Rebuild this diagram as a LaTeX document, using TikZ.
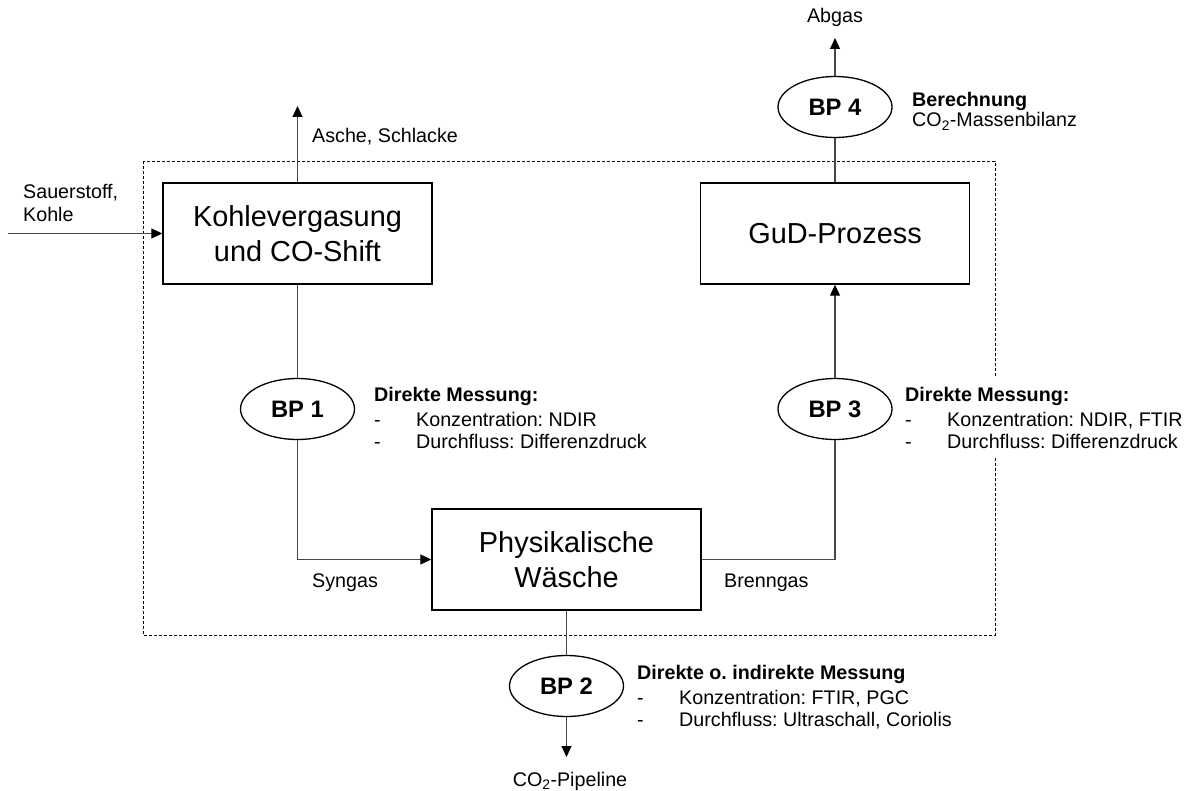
\documentclass[tikz,border=0pt]{standalone}
\usepackage{fontspec}
\setmainfont{Liberation Sans}
\frenchspacing
\usetikzlibrary{arrows.meta,shapes.geometric}
\begin{document}
\begin{tikzpicture}[x=1pt,y=-1pt,
  procbox/.style={draw,line width=1.4pt,minimum width=269pt,minimum height=101pt,align=center,inner sep=0pt,font=\fontsize{28.9}{35}\selectfont},
  bpell/.style={draw,ellipse,line width=1.3pt,minimum width=114pt,minimum height=61pt,inner sep=0pt,font=\fontsize{23.8}{28}\selectfont\bfseries},
  conn/.style={line width=1.1pt,draw=black!72},
  flow/.style={conn,-{Triangle[length=11pt,width=10pt,black]}},
  lbl/.style={inner sep=0pt,font=\fontsize{19.7}{23}\selectfont},
  hdr/.style={lbl,font=\fontsize{19.7}{23}\selectfont\bfseries},
  sysbox/.style={line width=0.8pt,dash pattern=on 3pt off 2pt}]
\useasboundingbox (0,0) rectangle (1196,791);
% system boundary
\draw[sysbox] (143,161) rectangle (995,635);
% white backing of the BP3 text (covers the boundary line)
\fill[white] (900,378) rectangle (1196,456);
% process boxes
\node[procbox] (K) at (297.5,233.5) {Kohlevergasung\\und CO-Shift};
\node[procbox] (G) at (835,233.5) {GuD-Prozess};
\node[procbox] (P) at (566.5,559.5) {Physikalische\\Wäsche};
% balance points
\node[bpell] (BP1) at (297.5,409) {BP 1};
\node[bpell] (BP3) at (835,409) {BP 3};
\node[bpell] (BP2) at (566.5,686) {BP 2};
\node[bpell] (BP4) at (835,107) {BP 4};
% free ends
\coordinate (ascheEnd) at (297.5,106);
\coordinate (inStart) at (8,233.5);
\coordinate (abgasEnd) at (835,38);
\coordinate (pipeEnd) at (566.5,757);
% connectors
\draw[flow] (K) -- (ascheEnd);
\draw[flow] (inStart) -- (K.west);
\draw[conn] (K) -- (BP1);
\draw[flow] (BP1.south) |- (P.west);
\draw[conn] (P.east) -| (BP3.south);
\draw[flow] (BP3) -- (G);
\draw[conn] (G) -- (BP4);
\draw[flow] (BP4) -- (abgasEnd);
\draw[conn] (P) -- (BP2);
\draw[flow] (BP2) -- (pipeEnd);
% labels
\node[lbl] (tAbgas) at (835,17) {Abgas};
\node[lbl,anchor=west] (tAsche) at (312,137) {Asche, Schlacke};
\node[lbl,anchor=west,align=left] (tIn) at (23,202.5) {Sauerstoff,\\Kohle};
\node[lbl,anchor=west] (tSyn) at (312,583) {Syngas};
\node[lbl,anchor=west] (tBrenn) at (724,583) {Brenngas};
\node[lbl] (tPipe) at (570,781) {CO\textsubscript{2}-Pipeline};
% BP4 text
\node[hdr,anchor=base west] (b4a) at (912,107) {Berechnung};
\node[lbl,anchor=base west] (b4b) at (912,127) {CO\textsubscript{2}-Massenbilanz};
% BP1 text
\node[hdr,anchor=base west] (b1a) at (374,401) {Direkte Messung:};
\node[lbl,anchor=base west] (b1b) at (374,426) {\makebox[42pt][l]{-}Konzentration: NDIR};
\node[lbl,anchor=base west] (b1c) at (374,448) {\makebox[42pt][l]{-}Durchfluss: Differenzdruck};
% BP3 text
\node[hdr,anchor=base west] (b3a) at (905,401) {Direkte Messung:};
\node[lbl,anchor=base west] (b3b) at (905,426) {\makebox[42pt][l]{-}Konzentration: NDIR, FTIR};
\node[lbl,anchor=base west] (b3c) at (905,448) {\makebox[42pt][l]{-}Durchfluss: Differenzdruck};
% BP2 text
\node[hdr,anchor=base west] (b2a) at (637,679) {Direkte o. indirekte Messung};
\node[lbl,anchor=base west] (b2b) at (637,704) {\makebox[42pt][l]{-}Konzentration: FTIR, PGC};
\node[lbl,anchor=base west] (b2c) at (637,726) {\makebox[42pt][l]{-}Durchfluss: Ultraschall, Coriolis};
\end{tikzpicture}
\end{document}
